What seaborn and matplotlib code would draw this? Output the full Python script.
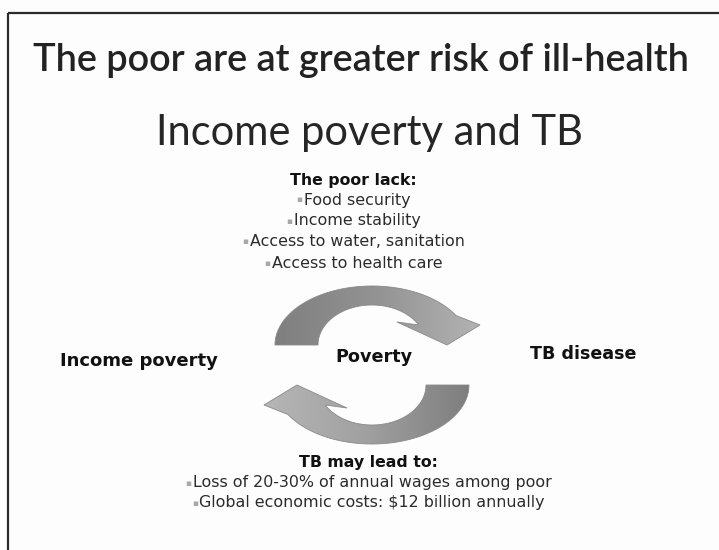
import numpy as np
import seaborn as sns
import matplotlib.pyplot as plt
from matplotlib.patches import Polygon

# TEXT CONTENT
TITLE = 'The poor are at greater risk of ill-health'
SUBTITLE = 'Income poverty and TB'
LACK_HEAD = 'The poor lack:'
LACK_ITEMS = ['Food security', 'Income stability', 'Access to water, sanitation', 'Access to health care']
LEAD_HEAD = 'TB may lead to:'
LEAD_ITEMS = ['Loss of 20-30% of annual wages among poor', 'Global economic costs: $12 billion annually']
NODES = ['Income poverty', 'Poverty', 'TB disease']

sns.set_theme(style='white')
plt.rcParams['font.family'] = ['DejaVu Sans']

W, H = 719, 550
fig = plt.figure(figsize=(W / 100, H / 100), dpi=100, facecolor='#fdfdfd')
ax = fig.add_axes([0, 0, 1, 1])
ax.set_xlim(0, W)
ax.set_ylim(H, 0)
ax.set_facecolor('#fdfdfd')
ax.axis('off')

# slide frame (top + left edge)
ax.plot([7.5, W], [12.5, 12.5], color='#2a2a2a', lw=1.6, solid_capstyle='butt')
ax.plot([7.5, 7.5], [12.5, H], color='#2a2a2a', lw=1.6, solid_capstyle='butt')

# titles
ax.text(361, 60, TITLE, ha='center', va='center', fontsize=27.3, family=['Lato', 'DejaVu Sans'],
        color='#222222', fontweight='semibold')
ax.text(370, 133, SUBTITLE, ha='center', va='center', fontsize=30, family=['Lato', 'DejaVu Sans'],
        color='#262626', fontweight='normal')


# circular arrows
def arc(cx, cy, rx, ry, t0, t1, n=80):
    t = np.radians(np.linspace(t0, t1, n))
    return np.column_stack([cx + rx * np.cos(t), cy - ry * np.sin(t)])


cx, cy = 372, 345
t_end = 30
outer = arc(cx, cy, 97, 59, 180, t_end)
inner = arc(cx, cy, 54, 40, t_end, 180)
head = np.array([[cx + 108, cy - 20], [cx + 75, cy], [cx + 25, cy - 23]])
top_arrow = np.vstack([outer, head, inner])
# bottom arrow = top arrow turned 180 degrees around the cycle centre
bot_arrow = np.column_stack([744 - top_arrow[:, 0], 730 - top_arrow[:, 1]])

grad = np.linspace(0, 1, 256).reshape(1, -1)
cmap_top = sns.blend_palette(['#7f7f7f', '#939393', '#b3b3b3'], as_cmap=True)
cmap_bot = sns.blend_palette(['#b6b6b6', '#a0a0a0', '#7e7e7e'], as_cmap=True)
for pts, cmap in [(top_arrow, cmap_top), (bot_arrow, cmap_bot)]:
    poly = Polygon(pts, closed=True, facecolor='none', edgecolor='#8a8a8a', lw=0.6, zorder=3)
    ax.add_patch(poly)
    x0, x1 = pts[:, 0].min(), pts[:, 0].max()
    y0, y1 = pts[:, 1].min(), pts[:, 1].max()
    im = ax.imshow(grad, cmap=cmap, extent=[x0, x1, y1, y0], aspect='auto', zorder=2)
    im.set_clip_path(poly)
ax.set_xlim(0, W)
ax.set_ylim(H, 0)

# cycle labels
ax.text(139, 361, NODES[0], ha='center', va='center', fontsize=13, fontweight='bold', color='#111')
ax.text(374, 357, NODES[1], ha='center', va='center', fontsize=12.7, fontweight='bold', color='#111')
ax.text(583, 354, NODES[2], ha='center', va='center', fontsize=12.6, fontweight='bold', color='#111')

renderer = fig.canvas.get_renderer()
inv = ax.transData.inverted()


def bullet_block(x, y_head, head, items, ys):
    ax.text(x, y_head, head, ha='center', va='center', fontsize=11.3, fontweight='bold', color='#111')
    for item, y in zip(items, ys):
        t = ax.text(x + 4, y, item, ha='center', va='center', fontsize=11.4, color='#2b2b2b')
        bb = t.get_window_extent(renderer)
        left = inv.transform((bb.x0, 0))[0]
        ax.text(left - 1, y, '\u25aa', ha='right', va='center', fontsize=6.5, color='#a8a8a8')


bullet_block(353, 180, LACK_HEAD, LACK_ITEMS, [200, 221, 242, 264])
bullet_block(368, 462, LEAD_HEAD, LEAD_ITEMS, [483, 503])

fig.savefig('out.png', dpi=100, facecolor=fig.get_facecolor())
